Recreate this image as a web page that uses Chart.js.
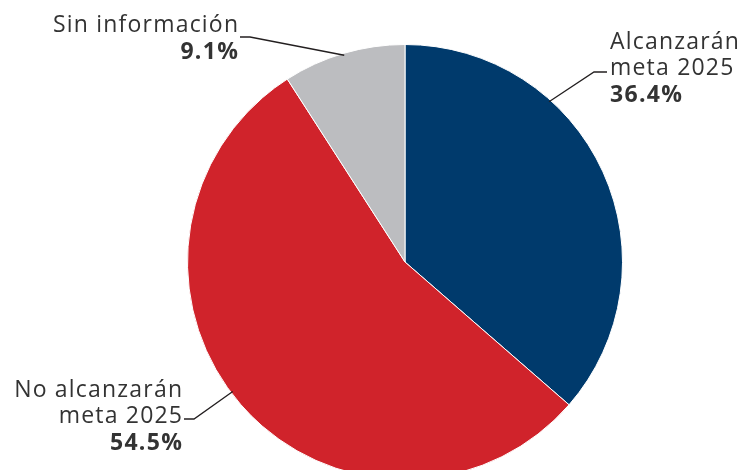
<!DOCTYPE html>
<html>
<head>
<meta charset="utf-8">
<script src="https://cdn.jsdelivr.net/npm/chart.js@4"></script>
<style>
  html, body { margin: 0; padding: 0; background: #fff; overflow: hidden; }
  #wrap { position: relative; width: 746px; height: 524px; }
</style>
</head>
<body>
<div id="wrap"><canvas id="pie"></canvas></div>
<script>
// datos del gráfico
const categories = ['Alcanzarán meta 2025', 'No alcanzarán meta 2025', 'Sin información'];
const shares = [36.4, 54.5, 9.1];
const sliceColors = ['#003a6c', '#d0232b', '#bcbdc0'];

// etiquetas: líneas de texto, alineación y punto donde empieza el texto
const labelLines = [['Alcanzarán', 'meta 2025'], ['No alcanzarán', 'meta 2025'], ['Sin información']];
const labelCfg = [
  { x: 610, y: 49, align: 'left',  frac: 0.32, elbow: [594, 72], lineEnd: [607, 72] },
  { x: 182, y: 397, align: 'right', frac: 0.52, elbow: [194, 419], lineEnd: [184, 419] },
  { x: 238, y: 32, align: 'right', frac: 0.5,  elbow: [250, 37], lineEnd: [240, 37] }
];

const calloutPlugin = {
  id: 'callouts',
  afterDraw(chart) {
    const c = chart.ctx;
    const arcs = chart.getDatasetMeta(0).data;
    c.save();
    arcs.forEach((arc, i) => {
      const p = arc.getProps(['x', 'y', 'startAngle', 'endAngle', 'outerRadius'], true);
      const cfg = labelCfg[i];
      const a = p.startAngle + (p.endAngle - p.startAngle) * cfg.frac;
      const ax = p.x + Math.cos(a) * (p.outerRadius - 2);
      const ay = p.y + Math.sin(a) * (p.outerRadius - 2);

      c.strokeStyle = '#231f20';
      c.lineWidth = 1.3;
      c.beginPath();
      c.moveTo(ax, ay);
      c.lineTo(cfg.elbow[0], cfg.elbow[1]);
      c.lineTo(cfg.lineEnd[0], cfg.lineEnd[1]);
      c.stroke();

      c.fillStyle = '#333333';
      c.textAlign = cfg.align;
      c.textBaseline = 'alphabetic';
      // con espaciado la alineación derecha deja un hueco al final
      const shift = cfg.align === 'right' ? 1.2 : 0;
      c.letterSpacing = '1.2px';
      c.font = '23px "Open Sans", sans-serif';
      let y = cfg.y;
      labelLines[i].forEach(t => { c.fillText(t, cfg.x + shift, y); y += 26; });
      c.letterSpacing = '1.3px';
      c.font = 'bold 23px "Open Sans", sans-serif';
      c.fillText(shares[i].toFixed(1) + '%', cfg.x + shift, y + 1);
    });
    c.restore();
  }
};

new Chart(document.getElementById('pie'), {
  type: 'pie',
  data: {
    labels: categories,
    datasets: [{
      data: shares,
      backgroundColor: sliceColors,
      borderColor: '#ffffff',
      borderWidth: 1
    }]
  },
  options: {
    responsive: true,
    maintainAspectRatio: false,
    animation: false,
    layout: { padding: { top: 44, bottom: 44, left: 100, right: 36 } },
    plugins: { legend: { display: false }, tooltip: { enabled: false } }
  },
  plugins: [calloutPlugin]
});
</script>
</body>
</html>
